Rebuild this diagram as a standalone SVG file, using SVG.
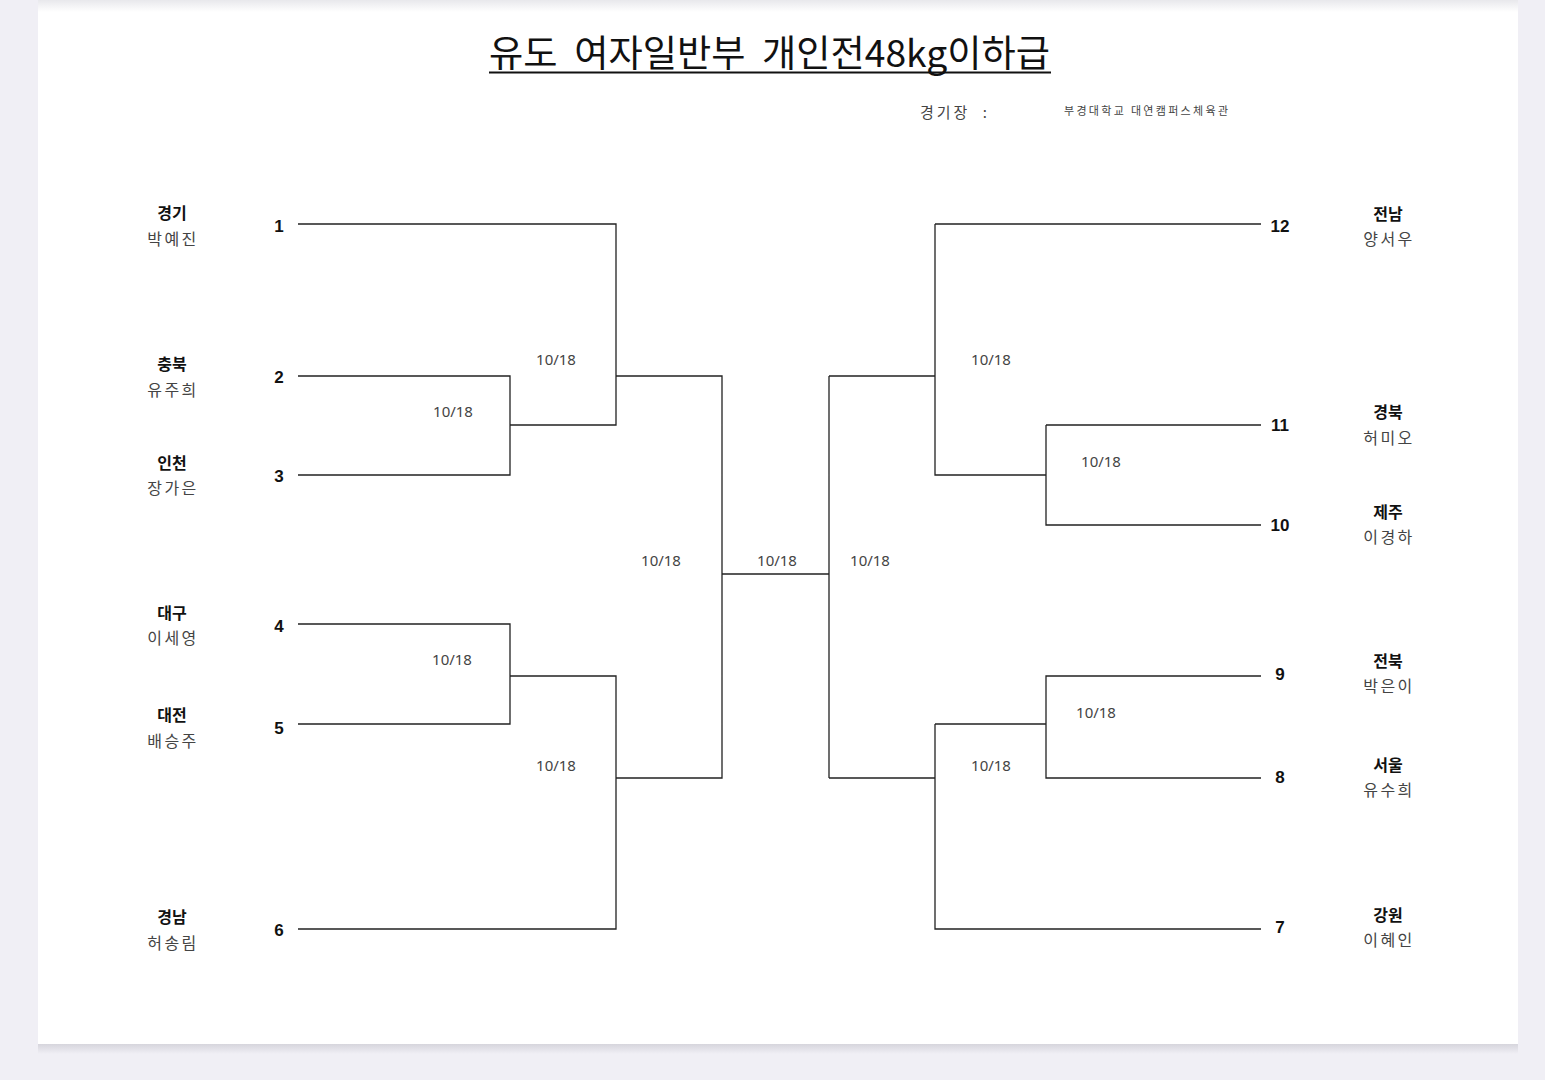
<svg xmlns="http://www.w3.org/2000/svg" width="1545" height="1080" viewBox="0 0 1545 1080">
<style>
.ln{stroke:#222;stroke-width:1.3;fill:none}
.dt{font-family:"Noto Sans","Noto Sans CJK KR",sans-serif;font-size:15px;fill:#444;text-anchor:middle;dominant-baseline:central}
.num{font-family:"Liberation Sans",Arial,sans-serif;font-size:17px;font-weight:bold;fill:#111;text-anchor:middle;dominant-baseline:central}
.rg{font-family:"Noto Sans CJK KR",sans-serif;font-size:16px;font-weight:bold;fill:#111;text-anchor:middle;dominant-baseline:central}
.nm{font-family:"Noto Sans CJK KR",sans-serif;font-size:16px;fill:#444;text-anchor:middle;dominant-baseline:central;letter-spacing:2.5px}
</style>
<defs>
<linearGradient id="sh" x1="0" y1="0" x2="0" y2="1"><stop offset="0" stop-color="#d6d5dc"/><stop offset="1" stop-color="#f0eff5"/></linearGradient>
<linearGradient id="tsh" x1="0" y1="0" x2="0" y2="1"><stop offset="0" stop-color="#e8e8ec"/><stop offset="1" stop-color="#ffffff"/></linearGradient>
</defs>
<rect width="1545" height="1080" fill="#f0eff5"/>
<rect x="38" y="0" width="1480" height="1044" fill="#fff"/>
<rect x="38" y="0" width="1480" height="12" fill="url(#tsh)"/>
<rect x="38" y="1044" width="1480" height="10" fill="url(#sh)"/>
<g id="title">
<text x="489" y="67" font-family="Noto Sans CJK KR,sans-serif" font-size="37" fill="#111" textLength="561" lengthAdjust="spacingAndGlyphs">유도&#160;&#160;여자일반부&#160;&#160;개인전48kg이하급</text>
<line x1="489" y1="72.5" x2="1051" y2="72.5" stroke="#111" stroke-width="2"/>
</g>
<g id="venue">
<text x="920" y="111" font-family="Noto Sans CJK KR,sans-serif" font-size="15" fill="#444" dominant-baseline="central" textLength="67" lengthAdjust="spacing">경기장&#160;&#160;:</text>
<text x="1064" y="110" font-family="Noto Sans CJK KR,sans-serif" font-size="11" fill="#444" dominant-baseline="central" textLength="164" lengthAdjust="spacing">부경대학교 대연캠퍼스체육관</text>
</g>
<g id="connectors">
<path class="ln" d="M298 224H616V425H510M298 376H510V475H298M616 376H722V778H616M298 624H510V724H298M510 676H616V929H298M722 574H829"/>
<path class="ln" d="M829 376V778M829 376H935V475H1046M935 224V376M935 224H1261M1046 425H1261M1046 425V525H1261M829 778H935V929H1261M935 724V778M935 724H1046V676H1261M1046 724V778H1261"/>
</g>
<g id="dates">
<text class="dt" x="556" y="359">10/18</text>
<text class="dt" x="453" y="411">10/18</text>
<text class="dt" x="452" y="659">10/18</text>
<text class="dt" x="556" y="765">10/18</text>
<text class="dt" x="661" y="560">10/18</text>
<text class="dt" x="777" y="560">10/18</text>
<text class="dt" x="870" y="560">10/18</text>
<text class="dt" x="991" y="359">10/18</text>
<text class="dt" x="1101" y="461">10/18</text>
<text class="dt" x="1096" y="712">10/18</text>
<text class="dt" x="991" y="765">10/18</text>
</g>
<g id="p1"><text class="rg" x="172" y="212">경기</text><text class="nm" x="173" y="238">박예진</text><text class="num" x="279" y="226">1</text></g>
<g id="p2"><text class="rg" x="172" y="363">충북</text><text class="nm" x="173" y="389">유주희</text><text class="num" x="279" y="377">2</text></g>
<g id="p3"><text class="rg" x="172" y="462">인천</text><text class="nm" x="173" y="487">장가은</text><text class="num" x="279" y="476">3</text></g>
<g id="p4"><text class="rg" x="172" y="612">대구</text><text class="nm" x="173" y="637">이세영</text><text class="num" x="279" y="626">4</text></g>
<g id="p5"><text class="rg" x="172" y="714">대전</text><text class="nm" x="173" y="740">배승주</text><text class="num" x="279" y="728">5</text></g>
<g id="p6"><text class="rg" x="172" y="916">경남</text><text class="nm" x="173" y="942">허송림</text><text class="num" x="279" y="930">6</text></g>
<g id="p12"><text class="rg" x="1388" y="213">전남</text><text class="nm" x="1389" y="238">양서우</text><text class="num" x="1280" y="226">12</text></g>
<g id="p11"><text class="rg" x="1388" y="411">경북</text><text class="nm" x="1389" y="437">허미오</text><text class="num" x="1280" y="425">11</text></g>
<g id="p10"><text class="rg" x="1388" y="511">제주</text><text class="nm" x="1389" y="536">이경하</text><text class="num" x="1280" y="525">10</text></g>
<g id="p9"><text class="rg" x="1388" y="660">전북</text><text class="nm" x="1389" y="685">박은이</text><text class="num" x="1280" y="674">9</text></g>
<g id="p8"><text class="rg" x="1388" y="764">서울</text><text class="nm" x="1389" y="789">유수희</text><text class="num" x="1280" y="777">8</text></g>
<g id="p7"><text class="rg" x="1388" y="914">강원</text><text class="nm" x="1389" y="939">이혜인</text><text class="num" x="1280" y="927">7</text></g>
</svg>
